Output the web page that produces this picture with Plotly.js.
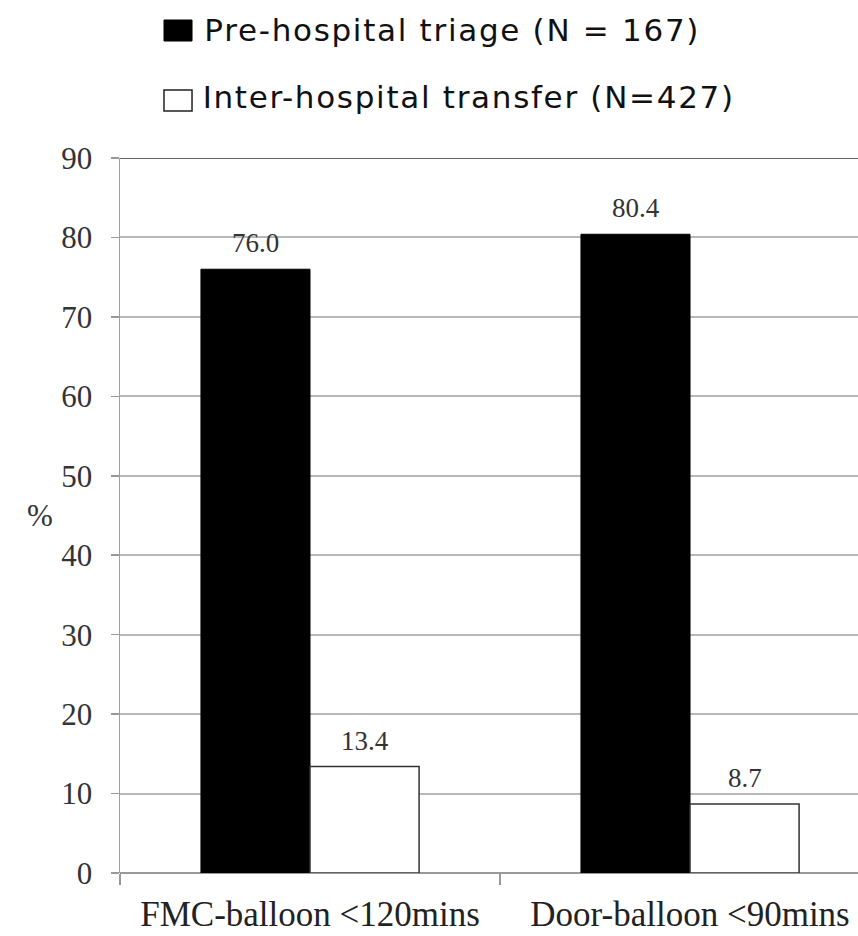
<!DOCTYPE html>
<html>
<head>
<meta charset="utf-8">
<script src="https://cdn.plot.ly/plotly-3.0.1.min.js"></script>
<style>
  html, body { margin: 0; padding: 0; background: #fff; }
  #chart { width: 858px; height: 936px; }
  /* legend captions are set a little wider than the font's default spacing */
  #chart .annotation[data-index="4"] text,
  #chart .annotation[data-index="5"] text { letter-spacing: 1.7px; }
</style>
</head>
<body>
<div id="chart"></div>
<script>
// Share of STEMI patients meeting reperfusion time targets, by referral route
const categories = ["FMC-balloon <120mins", "Door-balloon <90mins"];
const seriesNames = ["Pre-hospital triage (N = 167)", "Inter-hospital transfer (N=427)"];
const preHospital = [76.0, 80.4];
const interHospital = [13.4, 8.7];
const yTicks = [0, 10, 20, 30, 40, 50, 60, 70, 80, 90];

const serif = "Liberation Serif, Times New Roman, serif";
const sans = "DejaVu Sans, Open Sans, sans-serif";

const traces = [
  {
    type: "bar", name: seriesNames[0], x: categories, y: preHospital,
    marker: { color: "#000000", line: { color: "#000000", width: 1 } },
    hoverinfo: "skip"
  },
  {
    type: "bar", name: seriesNames[1], x: categories, y: interHospital,
    marker: { color: "#ffffff", line: { color: "#333333", width: 1.5 } },
    hoverinfo: "skip"
  }
];

// value labels above each bar (annotation indices 0-3)
const barOffset = 54.5;
const annotations = [];
[preHospital, interHospital].forEach((vals, s) => {
  vals.forEach((v, i) => {
    annotations.push({
      x: categories[i], y: v, xref: "x", yref: "y",
      xshift: s === 0 ? -barOffset : barOffset, yshift: 9,
      yanchor: "bottom", showarrow: false,
      text: v.toFixed(1),
      font: { family: serif, size: 27, color: "#333333" }
    });
  });
});

// legend entries drawn as text beside square swatches (annotation indices 4-5);
// the shift offsets the extra width added by the wider letter spacing
const legendY = [1.179, 1.085];
seriesNames.forEach((name, s) => {
  annotations.push({
    x: 0.109, y: legendY[s], xref: "paper", yref: "paper",
    xanchor: "left", yanchor: "middle", showarrow: false, xshift: 27,
    text: name,
    font: { family: sans, size: 31, color: "#111111" }
  });
});

// axis unit label
annotations.push({
  x: -0.108, y: 0.5, xref: "paper", yref: "paper",
  xanchor: "center", yanchor: "middle", showarrow: false,
  text: "%", font: { family: serif, size: 31, color: "#333333" }
});

const shapes = [
  { type: "rect", xref: "paper", yref: "paper", x0: 0.0596, x1: 0.0976, y0: 1.1636, y1: 1.1930,
    fillcolor: "#000000", line: { color: "#000000", width: 1 } },
  { type: "rect", xref: "paper", yref: "paper", x0: 0.0596, x1: 0.0976, y0: 1.0657, y1: 1.0951,
    fillcolor: "#ffffff", line: { color: "#222222", width: 1.5 } },
  { type: "line", xref: "paper", yref: "y", x0: 0, x1: 1, y0: 90, y1: 90,
    line: { color: "#666666", width: 2 } }
];

const layout = {
  width: 858, height: 936,
  margin: { l: 120, r: 0, t: 158, b: 63 },
  paper_bgcolor: "#ffffff", plot_bgcolor: "#ffffff",
  showlegend: false,
  barmode: "group", bargap: 0.426, bargroupgap: 0,
  xaxis: {
    type: "category", range: [-0.5, 1.442],
    showline: false, zeroline: false, showgrid: false,
    ticks: "outside", tickson: "boundaries", ticklen: 11, tickcolor: "#999999", tickwidth: 1.5,
    tickfont: { family: serif, size: 35, color: "#222222" },
    ticklabelstandoff: 17
  },
  yaxis: {
    range: [0, 90], tickvals: yTicks, ticktext: yTicks.map(String),
    showgrid: true, gridcolor: "#b8b8b8", gridwidth: 2,
    zeroline: true, zerolinecolor: "#999999", zerolinewidth: 2,
    showline: true, linecolor: "#a0a0a0", linewidth: 1.5,
    ticks: "outside", ticklen: 8, tickcolor: "#999999", tickwidth: 1.5,
    tickfont: { family: serif, size: 31, color: "#333333" },
    ticklabelstandoff: 12
  },
  annotations: annotations,
  shapes: shapes
};

Plotly.newPlot("chart", traces, layout, { staticPlot: true, displayModeBar: false });
</script>
</body>
</html>
